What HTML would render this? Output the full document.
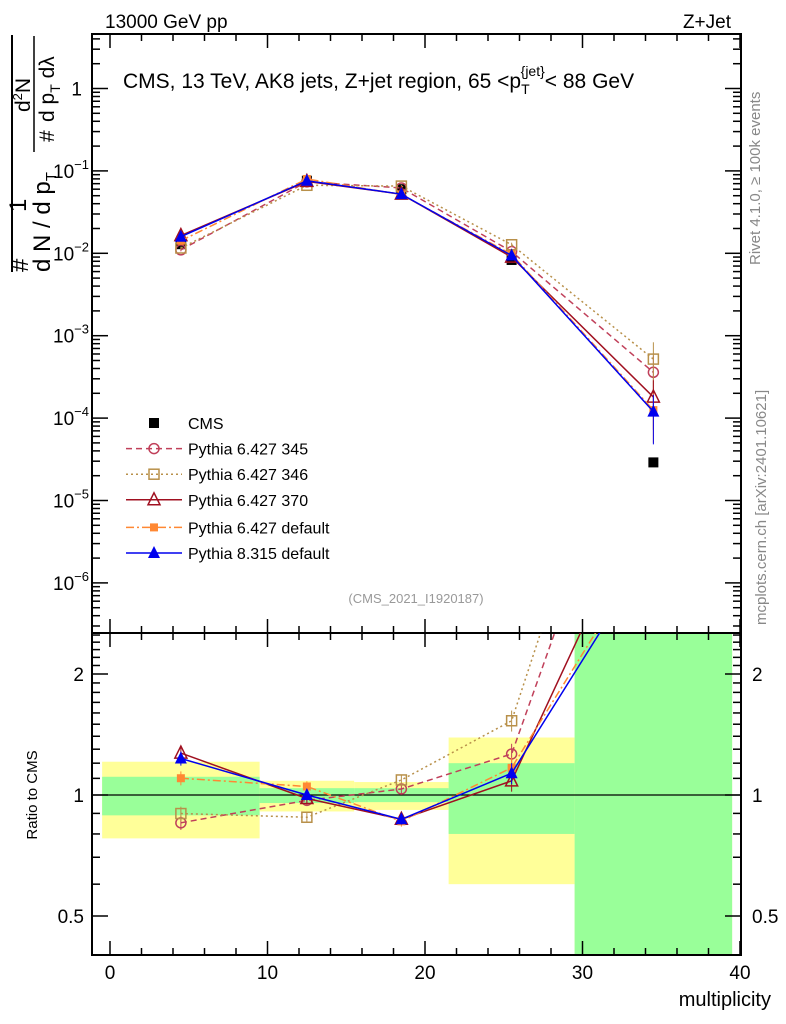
<!DOCTYPE html>
<html><head><meta charset="utf-8"><style>
body{margin:0;background:#fff}
svg{display:block;font-family:"Liberation Sans",sans-serif}
</style></head><body>
<svg id="c" width="786" height="1024" xmlns="http://www.w3.org/2000/svg">
<g id="bands"></g>
<g id="axes"></g>
<g id="series"></g>
<text x="105" y="28" font-size="19">13000 GeV pp</text>
<text x="731" y="28" font-size="19" text-anchor="end">Z+Jet</text>
<text x="123" y="88" font-size="21">CMS, 13 TeV, AK8 jets, Z+jet region, 65 &lt;p<tspan font-size="14" dy="6">T</tspan><tspan font-size="14" dy="-18" dx="-9">{jet}</tspan><tspan dy="12">&lt; 88 GeV</tspan></text>
<text x="416" y="603" font-size="13" fill="#999" text-anchor="middle">(CMS_2021_I1920187)</text>
<text transform="translate(760,265) rotate(-90)" font-size="15" fill="#888">Rivet 4.1.0, ≥ 100k events</text>
<text transform="translate(766,625) rotate(-90)" font-size="15" fill="#888">mcplots.cern.ch [arXiv:2401.10621]</text>
<text transform="translate(37,795) rotate(-90)" font-size="15" text-anchor="middle">Ratio to CMS</text>
<text x="771" y="1006" font-size="20" text-anchor="end">multiplicity</text>
<g font-size="24">
<line x1="12" y1="272" x2="12" y2="35" stroke="#000" stroke-width="2"/>
<text transform="translate(28,272) rotate(-90)">#</text>
<text transform="translate(26,212) rotate(-90)">1</text>
<text transform="translate(50,272) rotate(-90)">d N / d p<tspan font-size="15" dy="6">T</tspan></text>
<line x1="34" y1="152" x2="34" y2="36" stroke="#000" stroke-width="1.5"/>
<text transform="translate(54,142) rotate(-90)" font-size="21">#</text>
<text transform="translate(30,112) rotate(-90)" font-size="21">d<tspan font-size="13" dy="-8">2</tspan><tspan dy="8">N</tspan></text>
<text transform="translate(54,122) rotate(-90)" font-size="21">d p<tspan font-size="14" dy="6">T</tspan><tspan dy="-6"> dλ</tspan></text>
</g>
<g id="legend"></g>
</svg>
<script>
const categories=[4.5,12.5,18.5,25.5,34.5];
const binEdges=[-0.5,9.5,15.5,21.5,29.5,39.5];
const cms=[0.0129,0.076,0.060,0.0083,2.9e-5];
const cmsErr=[0.0005,0.002,0.0015,0.0004,0.3e-5];
const p345=[0.0110,0.0737,0.0621,0.0105,3.6e-4];
const p346=[0.0116,0.0669,0.0654,0.0127,5.2e-4];
const p370=[0.0164,0.0745,0.0522,0.0090,1.8e-4];
const pdef=[0.0142,0.0798,0.0516,0.0097,1.25e-4];
const p8=[0.0159,0.0760,0.0522,0.0094,1.2e-4];
const mcRelErr=[0.04,0.03,0.03,0.06,0.6];
const bandInnerLo=[0.89,0.955,0.96,0.80,0.3];
const bandInnerHi=[1.11,1.04,1.04,1.20,3.0];
const bandOuterLo=[0.78,0.91,0.918,0.60,0.3];
const bandOuterHi=[1.21,1.085,1.077,1.39,3.0];
const xTicks=[0,10,20,30,40];
const yTopTicks=[0,-1,-2,-3,-4,-5,-6];
const yRatioTicks=[0.5,1,2];

const NS="http://www.w3.org/2000/svg";
const L=92,R=741,T1=34,B1=633,T2=633,B2=955;
const X=v=>110+15.75*v;
const Y=v=>88.5-82.4*Math.log10(v);
const YR=v=>795-121*Math.log2(v);
function mk(tag,at,par){const e=document.createElementNS(NS,tag);for(const k in at)e.setAttribute(k,at[k]);par.appendChild(e);return e;}
const bands=document.getElementById('bands'),axes=document.getElementById('axes'),ser=document.getElementById('series'),leg=document.getElementById('legend');
const clipR=v=>Math.min(B2,Math.max(T2,v));
for(let i=0;i<categories.length;i++){
 let r=mk('rect',{x:X(binEdges[i]),y:clipR(YR(bandOuterHi[i])),width:X(binEdges[i+1])-X(binEdges[i]),height:clipR(YR(bandOuterLo[i]))-clipR(YR(bandOuterHi[i])),fill:'#ffff99'},bands);
 
 
 let g=mk('rect',{x:X(binEdges[i]),y:clipR(YR(bandInnerHi[i])),width:X(binEdges[i+1])-X(binEdges[i]),height:clipR(YR(bandInnerLo[i]))-clipR(YR(bandInnerHi[i])),fill:'#99ff99'},bands);
 
 
}
for(const [t,b] of [[T1,B1],[T2,B2]]){let f=mk('rect',{x:L,y:t,width:R-L,height:b-t,fill:'none',stroke:'#000','stroke-width':2},axes);
 
 }
mk('line',{x1:L,x2:R,y1:YR(1),y2:YR(1),stroke:'#000','stroke-width':1.2},axes);
for(let v=-1;v<=40;v++){const len=v%10==0?14:(v%2==0?7:0);if(!len)continue;
 for(const [t,b] of [[T1,B1],[T2,B2]]){mk('line',{x1:X(v),x2:X(v),y1:b,y2:b-len,stroke:'#000','stroke-width':1.5},axes);mk('line',{x1:X(v),x2:X(v),y1:t,y2:t+len,stroke:'#000','stroke-width':1.5},axes);}}
xTicks.forEach(v=>{let t=mk('text',{x:X(v),y:979,'font-size':19,'text-anchor':'middle'},axes);t.textContent=v;
 
 });
for(let d=-7;d<=0;d++)for(let m=1;m<10;m++){const v=m*Math.pow(10,d);const y=Y(v);if(y<T1||y>B1)continue;const len=m==1?16:8;
 mk('line',{x1:L,x2:L+len,y1:y,y2:y,stroke:'#000','stroke-width':1.5},axes);mk('line',{x1:R,x2:R-len,y1:y,y2:y,stroke:'#000','stroke-width':1.5},axes);}
yTopTicks.forEach(d=>{let t=mk('text',{x:d==0?82:53,y:Y(Math.pow(10,d))+7,'font-size':19,'text-anchor':d==0?'end':'start'},axes);
 if(d==0)t.textContent='1';else{const a=mk('tspan',{},t);a.textContent='10';const s=mk('tspan',{dy:-9,'font-size':13},t);s.textContent='−'+(-d);}
 
 });
for(let v=0.4;v<=2.6;v+=0.1){const y=YR(v);if(y<T2||y>B2)continue;const maj=[0.5,1,2].some(q=>Math.abs(q-v)<1e-6);const len=maj?16:8;
 mk('line',{x1:L,x2:L+len,y1:y,y2:y,stroke:'#000','stroke-width':1.5},axes);mk('line',{x1:R,x2:R-len,y1:y,y2:y,stroke:'#000','stroke-width':1.5},axes);}
yRatioTicks.forEach(v=>{for(const [x,a] of [[84,'end'],[752,'start']]){let t=mk('text',{x:x,y:YR(v)+7,'font-size':19,'text-anchor':a},axes);t.textContent=v;
 
 }});
function marker(kind,x,y,col,par){
 if(kind=='sqf')return mk('rect',{x:x-5,y:y-5,width:10,height:10,fill:col},par);
 if(kind=='sqo')return mk('rect',{x:x-5,y:y-5,width:10,height:10,fill:'none',stroke:col,'stroke-width':1.5},par);
 if(kind=='circ')return mk('circle',{cx:x,cy:y,r:5,fill:'none',stroke:col,'stroke-width':1.5},par);
 if(kind=='trio')return mk('path',{d:`M${x},${y-7}L${x+6},${y+5}L${x-6},${y+5}Z`,fill:'none',stroke:col,'stroke-width':1.5},par);
 if(kind=='trif')return mk('path',{d:`M${x},${y-7}L${x+6},${y+5}L${x-6},${y+5}Z`,fill:col},par);
 if(kind=='sqs')return mk('rect',{x:x-4,y:y-4,width:8,height:8,fill:col},par);
}
const series=[
 {name:'Pythia 6.427 345',v:p345,col:'#c0405a',dash:'6,4',m:'circ'},
 {name:'Pythia 6.427 346',v:p346,col:'#b8904a',dash:'2,3',m:'sqo'},
 {name:'Pythia 6.427 370',v:p370,col:'#a01020',dash:'',m:'trio'},
 {name:'Pythia 6.427 default',v:pdef,col:'#ff8833',dash:'8,3,2,3',m:'sqs'},
 {name:'Pythia 8.315 default',v:p8,col:'#0000ee',dash:'',m:'trif'}];
const cp=mk('clipPath',{id:'cr'},ser);mk('rect',{x:L,y:T2,width:R-L,height:B2-T2},cp);
const gTop=mk('g',{},ser),gR=mk('g',{'clip-path':'url(#cr)'},ser);
categories.forEach((c,i)=>{mk('line',{x1:X(c),x2:X(c),y1:Y(cms[i]+cmsErr[i]),y2:Y(cms[i]-cmsErr[i]),stroke:'#000'},gTop);
 let m=marker('sqf',X(c),Y(cms[i]),'#000',gTop);
 
 });
series.forEach(s=>{
 let pl=mk('polyline',{points:categories.map((c,i)=>X(c)+','+Y(s.v[i])).join(' '),fill:'none',stroke:s.col,'stroke-width':1.5,'stroke-dasharray':s.dash},gTop);
 
 
 let pr=mk('polyline',{points:categories.map((c,i)=>X(c)+','+YR(s.v[i]/cms[i])).join(' '),fill:'none',stroke:s.col,'stroke-width':1.5,'stroke-dasharray':s.dash},gR);
 
 
 categories.forEach((c,i)=>{
  mk('line',{x1:X(c),x2:X(c),y1:Y(s.v[i]*(1+mcRelErr[i])),y2:Y(s.v[i]*(1-mcRelErr[i])),stroke:s.col},gTop);
  let m=marker(s.m,X(c),Y(s.v[i]),s.col,gTop);
  
  
  const r=s.v[i]/cms[i];
  if(r>3)return;
  mk('line',{x1:X(c),x2:X(c),y1:YR(r*(1+mcRelErr[i])),y2:YR(r*(1-mcRelErr[i])),stroke:s.col},gR);
  let mr=marker(s.m,X(c),YR(r),s.col,gR);
  
  
 });
});
const ly0=423,ldy=25.6;
let e0=mk('g',{},leg);


marker('sqf',154,ly0,'#000',e0);let t0=mk('text',{x:188,y:ly0+6,'font-size':16},e0);t0.textContent='CMS';
series.forEach((s,k)=>{const y=ly0+ldy*(k+1)+(k>=3?2:0);
 let g=mk('g',{},leg);
 
 
 mk('line',{x1:126,x2:182,y1:y,y2:y,stroke:s.col,'stroke-width':1.5,'stroke-dasharray':s.dash},g);
 marker(s.m,154,y,s.col,g);
 let t=mk('text',{x:188,y:y+6,'font-size':16},g);t.textContent=s.name;});
</script>
</body></html>
